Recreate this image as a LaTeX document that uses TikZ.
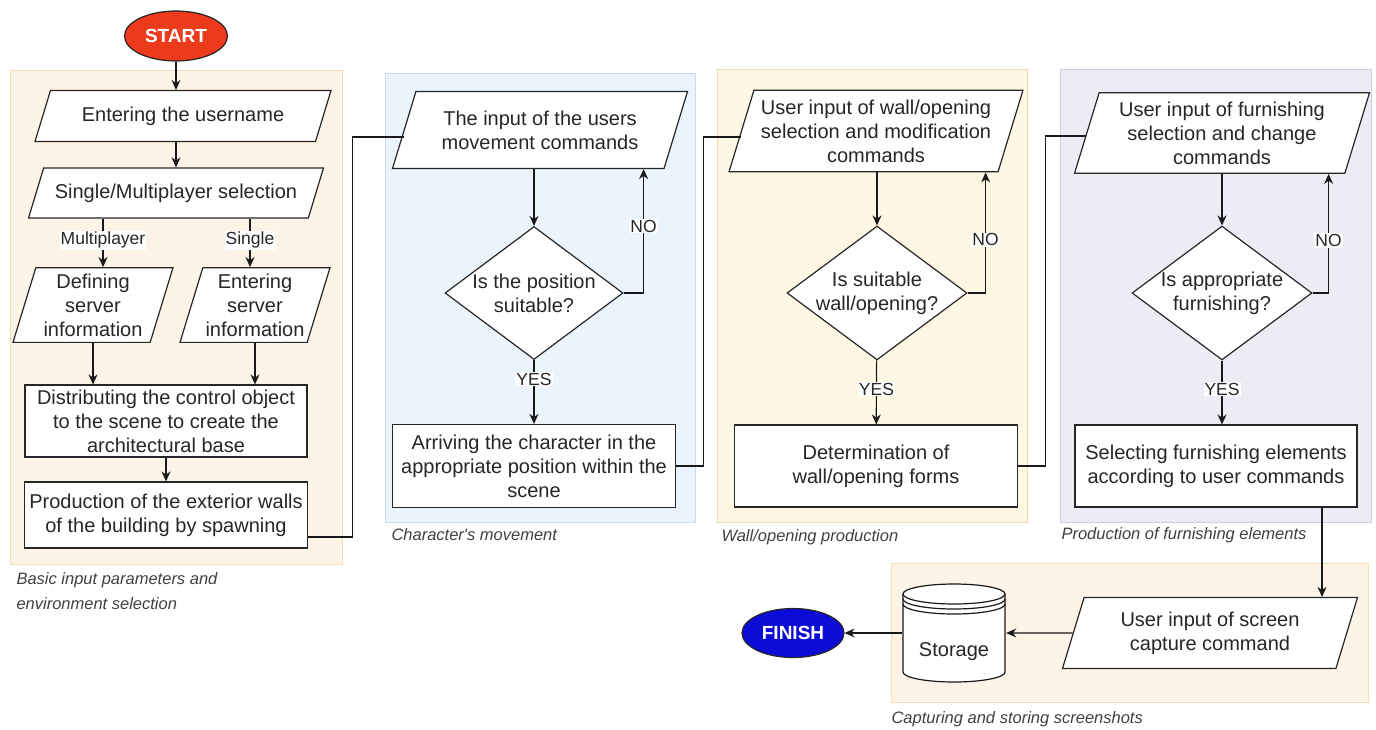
\documentclass[tikz,border=0pt]{standalone}
\usepackage{fontspec}
\setmainfont{Liberation Sans}
\usetikzlibrary{shapes.geometric,arrows.meta}

\definecolor{startred}{RGB}{236,58,28}
\definecolor{finishblue}{RGB}{12,12,214}
\definecolor{peachfill}{RGB}{253,243,230}
\definecolor{peachline}{RGB}{242,221,184}
\definecolor{skyfill}{RGB}{235,243,252}
\definecolor{skyline}{RGB}{199,218,238}
\definecolor{creamfill}{RGB}{253,247,228}
\definecolor{creamline}{RGB}{238,223,176}
\definecolor{lilacfill}{RGB}{239,235,244}
\definecolor{lilacline}{RGB}{211,201,224}

\tikzset{
  base/.style={draw=black!85, line width=1.2pt, fill=white, align=center,
    font=\fontsize{20}{24}\selectfont, text=black!85},
  io/.style={base, trapezium, trapezium left angle=73, trapezium right angle=107,
    trapezium stretches body, inner xsep=2pt, inner ysep=#1},
  io/.default=4pt,
  proc/.style={base, rectangle, inner sep=2pt},
  ask/.style={base, diamond, aspect=1.34, inner sep=0pt},
  term/.style={base, ellipse, text=white, inner sep=0pt,
    font=\fontsize{19}{22}\selectfont\bfseries},
  wire/.style={line width=1.2pt, draw=black!90},
  arr/.style={wire, -{Stealth[length=10pt,width=9pt]}},
  lbl/.style={fill=white, inner sep=1pt, font=\fontsize{17.5}{21}\selectfont, text=black!85},
  grplbl/.style={anchor=west, align=left, text=black!75,
    font=\fontsize{16.5}{25}\selectfont\itshape},
  store/.style={rectangle, minimum width=104, minimum height=100, inner sep=0pt,
    font=\fontsize{20}{24}\selectfont, text=black!85,
    path picture={
      \draw [wire, fill=white]
        ([xshift=1,yshift=-11]path picture bounding box.north west)
        -- ([xshift=1,yshift=11]path picture bounding box.south west)
        arc [start angle=180, end angle=360, x radius=51pt, y radius=10pt]
        -- ([xshift=-1,yshift=-11]path picture bounding box.north east)
        arc [start angle=0, end angle=180, x radius=51pt, y radius=10pt] -- cycle;
      \foreach \dy in {11,16,21}
        \draw [wire] ([xshift=1,yshift=-\dy]path picture bounding box.north west)
          arc [start angle=180, end angle=360, x radius=51pt, y radius=10pt];
    }},
}

\begin{document}
\begin{tikzpicture}[x=1pt,y=-1pt]
\useasboundingbox (0,0) rectangle (1376,729);
% First the coloured group frames:
\foreach \xa/\ya/\xb/\yb/\fc/\lc in {10/70/342/564/peachfill/peachline,
  385/73/695/522/skyfill/skyline, 717/69/1027/522/creamfill/creamline,
  1060/69/1371/522/lilacfill/lilacline, 891/563/1368/702/peachfill/peachline}
{
\draw [draw=\lc, fill=\fc, line width=1pt] (\xa,\ya) rectangle (\xb,\yb);
}
\node [grplbl] (group label 1) at (13,591) {Basic input parameters and\\environment selection};
\node [grplbl] (group label 2) at (388,535) {Character\textquotesingle s movement};
\node [grplbl] (group label 3) at (718,537) {Wall/opening production};
\node [grplbl] (group label 4) at (1058,535) {Production of furnishing elements};
\node [grplbl] (group label 5) at (888,719) {Capturing and storing screenshots};

% The steps of the first group:
\node [term, fill=startred, minimum width=103, minimum height=50] (start) at (176,36) {START};
\node [io=16pt, minimum width=296, minimum height=51] (user) at (183,116) {Entering the username};
\node [io=15.5pt, minimum width=295, minimum height=50] (mode) at (176,193) {Single/Multiplayer selection};
\node [io=6pt, minimum width=160, minimum height=74] (server) at (93,305) {Defining\\server\\information};
\node [io=6pt, minimum width=150, minimum height=74] (local) at (255,305) {Entering\\server\\information};
\node [proc, minimum width=282, minimum height=72] (distribute) at (166,421)
  {Distributing the control object\\to the scene to create the\\architectural base};
\node [proc, minimum width=283, minimum height=66] (walls) at (166,515)
  {Production of the exterior walls\\of the building by spawning};

% The three loops:
\node [io=19pt, minimum width=295, minimum height=77] (move input) at (540,130)
  {The input of the users\\movement commands};
\node [ask, minimum width=178, minimum height=133] (move check) at (534,293)
  {Is the position\\suitable?};
\node [proc, minimum width=283, minimum height=83] (arrive) at (534,466)
  {Arriving the character in the\\appropriate position within the\\scene};
\node [io=9.5pt, minimum width=294, minimum height=81] (wall input) at (876,131)
  {User input of wall/opening\\selection and modification\\commands};
\node [ask, minimum width=180, minimum height=133] (wall check) at (877,293)
  {Is suitable\\wall/opening?};
\node [proc, minimum width=283, minimum height=82] (wall form) at (876,466)
  {Determination of\\wall/opening forms};
\node [io=9pt, minimum width=295, minimum height=80] (furn input) at (1222,133)
  {User input of furnishing\\selection and change\\commands};
\node [ask, minimum width=180, minimum height=133] (furn check) at (1222,293)
  {Is appropriate\\furnishing?};
\node [proc, minimum width=282, minimum height=82] (furn select) at (1216,466)
  {Selecting furnishing elements\\according to user commands};

% Screenshots and the end:
\node [io=14pt, minimum width=295, minimum height=71] (shot input) at (1210,633)
  {User input of screen\\capture command};
\node [store] (storage) at (954,633) {\raisebox{-23pt}[0pt][0pt]{Storage}};
\node [term, fill=finishblue, minimum width=102, minimum height=49] (finish) at (793,633) {FINISH};

\draw [arr] (start) -- (start |- user.north);
\draw [arr] (user.south -| start) -- (start |- mode.north);
\draw [arr] ([xshift=10]server.north |- mode.south)
  -- node [lbl, pos=0.45] {Multiplayer} ([xshift=10]server.north);
\draw [arr] ([xshift=-5]local.north |- mode.south)
  -- node [lbl, pos=0.45] {Single} ([xshift=-5]local.north);
\draw [arr] (server.south) -- (server.south |- distribute.north);
\draw [arr] (local.south) -- (local.south |- distribute.north);
\draw [arr] (distribute) -- (walls);
\draw [wire] ([yshift=-22]walls.east) -- ++(44,0) |- ([yshift=-7]move input.west);

\draw [arr] (move input.south -| move check) -- (move check.north);
\draw [arr] (move check.east) -| node [lbl, pos=0.77] {NO}
  ([xshift=20]move check.east |- move input.south);
\draw [arr] (move check) -- node [lbl, pos=0.3] {YES} (arrive);
\draw [wire] (arrive.east) -- ++(27,0) |- ([yshift=-6]wall input.west);

\draw [arr] (wall input.south -| wall check) -- (wall check.north);
\draw [arr] (wall check.east) -| node [lbl, pos=0.72] {NO}
  ([xshift=18]wall check.east |- wall input.south);
\draw [arr] (wall check) -- node [lbl, pos=0.45] {YES} (wall form);
\draw [wire] (wall form.east) -- ++(27,0) |- ([yshift=-3]furn input.west);

\draw [arr] (furn input.south -| furn check) -- (furn check.north);
\draw [arr] (furn check.east) -| node [lbl, pos=0.72] {NO}
  ([xshift=16]furn check.east |- furn input.south);
\draw [arr] (furn check.south) -- node [lbl, pos=0.45] {YES} (furn check.south |- furn select.north);
\draw [arr] ([xshift=106]furn select.south) -- ([xshift=106]furn select.south |- shot input.north);

\draw [arr] (shot input) -- (storage);
\draw [arr] (storage) -- (finish);
\end{tikzpicture}
\end{document}
